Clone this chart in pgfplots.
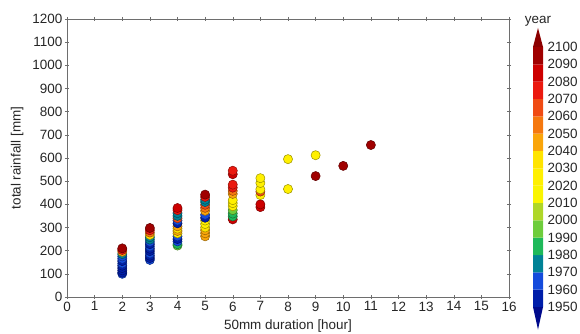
\documentclass[border=0pt]{standalone}
\usepackage{pgfplots}
\pgfplotsset{compat=1.18}
\usepackage{pgfplotstable}
\usepackage{fontspec}
\setmainfont{Liberation Sans}

\definecolor{cA}{RGB}{0,30,170}    % 1950
\definecolor{cB}{RGB}{20,75,220}   % 1960
\definecolor{cC}{RGB}{0,130,150}   % 1970
\definecolor{cD}{RGB}{30,185,90}   % 1980
\definecolor{cE}{RGB}{110,205,60}  % 1990
\definecolor{cF}{RGB}{175,215,40}  % 2000
\definecolor{cG}{RGB}{250,245,0}   % 2010
\definecolor{cH}{RGB}{255,240,0}   % 2020
\definecolor{cI}{RGB}{255,228,0}   % 2030
\definecolor{cJ}{RGB}{250,165,10}  % 2040
\definecolor{cK}{RGB}{245,120,15}  % 2050
\definecolor{cL}{RGB}{240,75,20}   % 2060
\definecolor{cM}{RGB}{235,25,15}   % 2070
\definecolor{cN}{RGB}{205,0,0}     % 2080
\definecolor{cO}{RGB}{160,0,0}     % 2090
\definecolor{cLow}{RGB}{0,10,140}
\definecolor{cHigh}{RGB}{140,0,0}
\definecolor{axgray}{RGB}{110,110,110}

% duration [hour], total rainfall [mm], decade class
\pgfplotstableread{
x y c
2 100 B
2 105 A
2 115 A
2 125 A
2 135 A
2 145 B
2 155 A
2 165 B
2 175 B
2 185 C
2 195 J
2 203 M
2 210 O
3 160 B
3 168 A
3 178 A
3 188 B
3 198 A
3 208 A
3 218 B
3 228 A
3 238 B
3 248 C
3 258 C
3 268 I
3 278 K
3 288 M
3 298 O
4 222 E
4 228 D
4 240 B
4 250 A
4 262 B
4 275 H
4 285 J
4 295 I
4 305 J
4 318 A
4 330 B
4 340 L
4 350 C
4 362 C
4 375 M
4 384 N
5 262 J
5 275 J
5 288 J
5 300 I
5 315 H
5 330 H
5 342 A
5 355 B
5 372 J
5 385 K
5 398 L
5 410 C
5 420 C
5 432 M
5 442 O
6 335 N
6 348 D
6 360 D
6 375 E
6 392 H
6 405 H
6 418 H
6 445 J
6 458 K
6 472 M
6 485 M
6 530 N
6 545 M
7 388 N
7 400 N
7 440 H
7 455 L
7 465 H
7 492 H
7 513 H
8 466 H
8 595 H
9 522 O
9 612 H
10 566 O
11 656 O
}\rain

\begin{document}
\fontsize{13.5}{16}\selectfont
\begin{tikzpicture}
\useasboundingbox (-67bp,-37bp) rectangle (513bp,297bp);
\begin{axis}[
  at={(0bp,0bp)}, anchor=south west,
  scale only axis, width=442bp, height=278bp,
  xmin=0, xmax=16, ymin=0, ymax=1200,
  xtick={0,1,...,16}, ytick={0,100,...,1200},
  /pgf/number format/1000 sep={},
  /pgf/number format/assume math mode=true,
  tick label style={font=\fontsize{13.5}{16}\selectfont, text=black!85},
  xticklabel style={inner sep=2.5bp},
  yticklabel style={inner sep=2.5bp},
  label style={font=\fontsize{13.5}{16}\selectfont, text=black!85},
  axis line style={axgray, line width=0.6pt},
  every tick/.style={axgray, line width=0.5pt},
  tick align=center, major tick length=4bp,
  xlabel={50mm duration [hour]},
  ylabel={total rainfall [mm]},
  xlabel style={at={(axis description cs:0.5,-0.104)}, anchor=center},
  ylabel style={at={(axis description cs:-0.113,0.5)}, anchor=center},
  clip=false,
]
\addplot[
  scatter, only marks, mark=*, mark size=4.6bp,
  scatter src=explicit symbolic,
  scatter/classes={
    A={fill=cA,draw=cA!60!black},
    B={fill=cB,draw=cB!60!black},
    C={fill=cC,draw=cC!60!black},
    D={fill=cD,draw=cD!60!black},
    E={fill=cE,draw=cE!60!black},
    F={fill=cF,draw=cF!60!black},
    G={fill=cG,draw=cG!60!black},
    H={fill=cH,draw=cH!60!black},
    I={fill=cI,draw=cI!60!black},
    J={fill=cJ,draw=cJ!60!black},
    K={fill=cK,draw=cK!60!black},
    L={fill=cL,draw=cL!60!black},
    M={fill=cM,draw=cM!60!black},
    N={fill=cN,draw=cN!60!black},
    O={fill=cO,draw=cO!60!black}},
  mark options={line width=0.5pt},
] table[x=x, y=y, meta=c] {\rain};
\end{axis}

\begin{axis}[
  at={(466bp,-10bp)}, anchor=south west,
  scale only axis, width=10bp, height=260bp,
  xmin=0, xmax=1, ymin=1950, ymax=2100,
  hide x axis,
  axis y line*=right,
  y axis line style={draw=none},
  ytick={1950,1960,...,2100},
  major tick length=0pt,
  /pgf/number format/1000 sep={},
  /pgf/number format/assume math mode=true,
  yticklabel style={font=\fontsize{13.5}{16}\selectfont, text=black!85, xshift=0bp},
  clip=false,
]
\addplot[fill=cA, draw=none] coordinates {(0,1950) (1,1950) (1,1960) (0,1960) (0,1950)};
\addplot[fill=cB, draw=none] coordinates {(0,1960) (1,1960) (1,1970) (0,1970) (0,1960)};
\addplot[fill=cC, draw=none] coordinates {(0,1970) (1,1970) (1,1980) (0,1980) (0,1970)};
\addplot[fill=cD, draw=none] coordinates {(0,1980) (1,1980) (1,1990) (0,1990) (0,1980)};
\addplot[fill=cE, draw=none] coordinates {(0,1990) (1,1990) (1,2000) (0,2000) (0,1990)};
\addplot[fill=cF, draw=none] coordinates {(0,2000) (1,2000) (1,2010) (0,2010) (0,2000)};
\addplot[fill=cG, draw=none] coordinates {(0,2010) (1,2010) (1,2020) (0,2020) (0,2010)};
\addplot[fill=cH, draw=none] coordinates {(0,2020) (1,2020) (1,2030) (0,2030) (0,2020)};
\addplot[fill=cI, draw=none] coordinates {(0,2030) (1,2030) (1,2040) (0,2040) (0,2030)};
\addplot[fill=cJ, draw=none] coordinates {(0,2040) (1,2040) (1,2050) (0,2050) (0,2040)};
\addplot[fill=cK, draw=none] coordinates {(0,2050) (1,2050) (1,2060) (0,2060) (0,2050)};
\addplot[fill=cL, draw=none] coordinates {(0,2060) (1,2060) (1,2070) (0,2070) (0,2060)};
\addplot[fill=cM, draw=none] coordinates {(0,2070) (1,2070) (1,2080) (0,2080) (0,2070)};
\addplot[fill=cN, draw=none] coordinates {(0,2080) (1,2080) (1,2090) (0,2090) (0,2080)};
\addplot[fill=cO, draw=none] coordinates {(0,2090) (1,2090) (1,2100) (0,2100) (0,2090)};
\addplot[fill=cLow, draw=none] coordinates {(0,1950) (1,1950) (0.5,1937) (0,1950)};
\addplot[fill=cHigh, draw=none] coordinates {(0,2100) (1,2100) (0.5,2111) (0,2100)};
\node[font=\fontsize{13.5}{16}\selectfont, text=black!85] at (axis cs:0.5,2115) {year};
\end{axis}
\end{tikzpicture}
\end{document}
